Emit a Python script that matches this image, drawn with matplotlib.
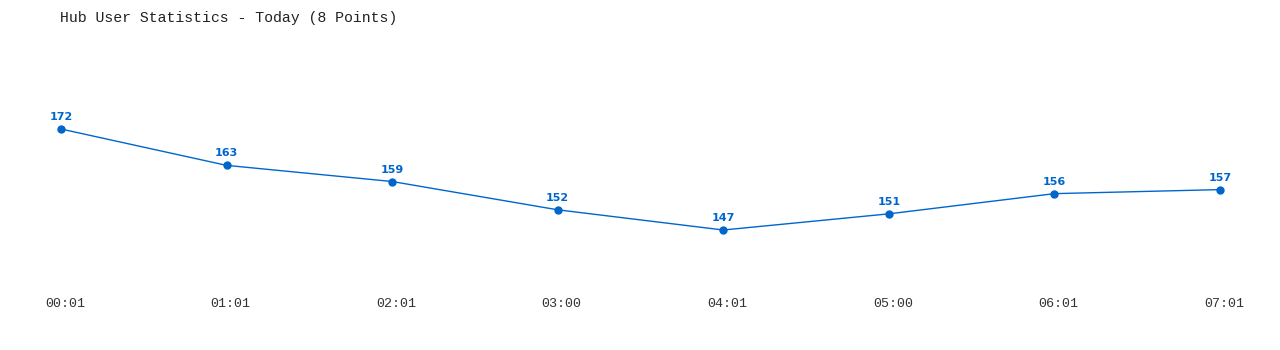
import matplotlib
matplotlib.use("Agg")
import matplotlib.pyplot as plt
import matplotlib.transforms as mtransforms

# data
times = ['00:01', '01:01', '02:01', '03:00', '04:01', '05:00', '06:01', '07:01']
users = [172, 163, 159, 152, 147, 151, 156, 157]
title = 'Hub User Statistics - Today (8 Points)'

blue = '#0066cc'

fig = plt.figure(figsize=(12.8, 3.5), dpi=100)
ax = fig.add_axes([61 / 1280, 1 - 290 / 350, (1220 - 61) / 1280, 250 / 350])

xs = list(range(len(times)))
ax.plot(xs, users, color=blue, lw=1, marker='o', markersize=5, zorder=3, clip_on=False)

for x, v in zip(xs, users):
    ax.annotate(str(v), (x, v), xytext=(0, 5), textcoords='offset points',
                ha='center', va='bottom', color=blue, fontsize=8,
                fontweight='bold', family='DejaVu Sans')

ax.set_xlim(0, len(times) - 1)
ax.set_ylim(132.15, 194.03)
ax.set_xticks(xs)
ax.set_xticklabels(times, family='Liberation Mono', fontsize=9.6, color='#333333')
ax.tick_params(axis='x', length=0, pad=6)
shift = mtransforms.ScaledTranslation(4 / 100, 0, fig.dpi_scale_trans)
for lab in ax.get_xticklabels():
    lab.set_transform(lab.get_transform() + shift)
ax.set_yticks([])
for s in ax.spines.values():
    s.set_visible(False)

fig.text(60 / 1280, 1 - 18 / 350, title, family='Liberation Mono', fontsize=10.7,
         color='#222222', ha='left', va='center')

fig.savefig('out.png', dpi=100)
